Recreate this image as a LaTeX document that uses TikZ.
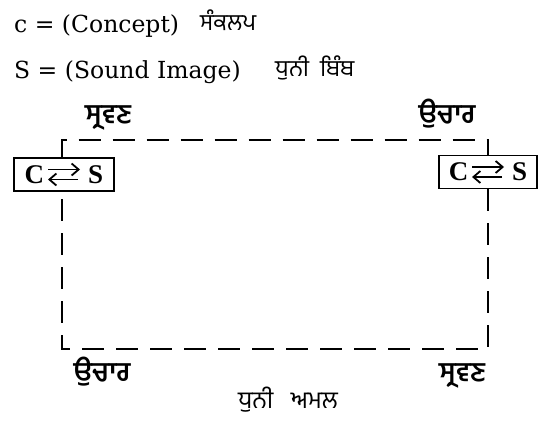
\documentclass[tikz,border=0pt]{standalone}
\usepackage{fontspec}
\usetikzlibrary{arrows.meta}
\setmainfont{DejaVu Serif}
\newfontfamily\gurm[Script=Gurmukhi]{Hind Jalandhar}
\newfontfamily\tnr{Liberation Serif}
\begin{document}
\begin{tikzpicture}[x=1pt,y=-1pt,
  toptext/.style={anchor=base west, inner sep=0pt, font=\fontsize{23.5}{28}\selectfont},
  topgurm/.style={anchor=base west, inner sep=0pt, font=\gurm\fontsize{23}{28}\selectfont},
  lbl/.style={anchor=base, inner sep=0pt, font=\gurm\bfseries\fontsize{27}{32}\selectfont},
  csbox/.style={draw, line width=1.4pt, minimum width=100pt, minimum height=33pt, inner sep=0pt,
    font=\tnr\bfseries\fontsize{27}{30}\selectfont},
  csarrow/.style={line width=1.8pt, -{Straight Barb[length=7pt,width=12pt,line width=1.8pt]}},
  dashline/.style={line width=2.2pt, dash pattern=on 22pt off 12pt}]
\useasboundingbox (0,0) rectangle (540,423);

\node[toptext] (t1) at (14,32) {c = (Concept)};
\node[topgurm] (t1g) at (200,30) {ਸੰਕਲਪ};
\node[toptext] (t2) at (14,78) {S = (Sound Image)};
\node[topgurm] (t2g) at (275,76) {ਧੁਨੀ\ \ ਬਿੰਬ};

\node[csbox] (b1) at (64,174.5) {C\hspace{44pt}S};
\node[csbox, minimum width=98pt] (b2) at (488,172) {C\hspace{44pt}S};
\foreach \b in {b1,b2}{
  \draw[csarrow] ([xshift=-16pt,yshift=5pt]\b.center) -- ([xshift=16pt,yshift=5pt]\b.center);
  \draw[csarrow] ([xshift=14pt,yshift=-5pt]\b.center) -- ([xshift=-16pt,yshift=-5pt]\b.center);
}

\coordinate (tl) at (62,140);
\coordinate (tr) at (488,140);
\coordinate (bl) at (62,349);
\coordinate (br) at (488,349);

\draw[dashline] (b1.north -| tl) -- (tl) -- (tr) -- (b2.north);
\draw[dashline] (b2.south) -- (br) -- (bl) -- (b1.south -| bl);

\node[lbl] (l1) at (108,123) {ਸ੍ਰਵਣ};
\node[lbl] (l2) at (447,123) {ਉਚਾਰ};
\node[lbl] (l3) at (102,381) {ਉਚਾਰ};
\node[lbl] (l4) at (462,381) {ਸ੍ਰਵਣ};
\node[anchor=base, inner sep=0pt, font=\gurm\fontsize{24}{28}\selectfont] (l5) at (288,408) {ਧੁਨੀ\ \ \ ਅਮਲ};
\end{tikzpicture}
\end{document}
